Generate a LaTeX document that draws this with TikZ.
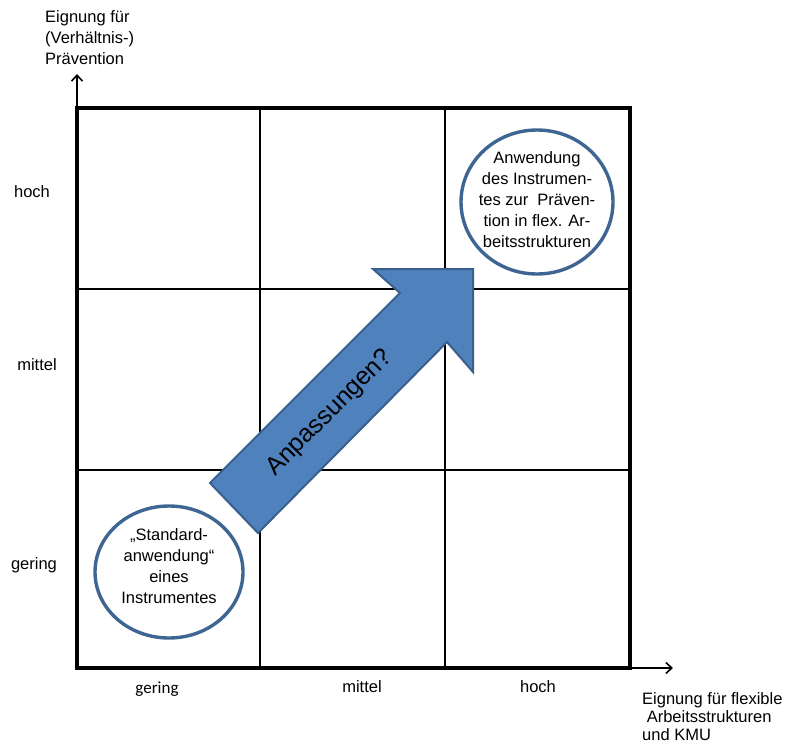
\documentclass[tikz,border=0pt]{standalone}
\usepackage{fontspec}
\setmainfont{Liberation Sans}
\newfontfamily\calibri{Carlito}
\usetikzlibrary{arrows.meta,shapes.geometric}
\definecolor{arrowfill}{HTML}{4F81BD}
\definecolor{arrowline}{HTML}{3A5F8C}
\definecolor{ringline}{HTML}{3F6592}
\tikzset{
  frame/.style={line width=3.6pt},
  gridline/.style={line width=1.6pt},
  axis/.style={line width=1.6pt,-{Straight Barb[length=6pt,width=11pt,line width=1.6pt]}},
  ring/.style={draw=ringline,line width=3.4pt,fill=white,ellipse,inner sep=0pt},
  lbl/.style={font=\fontsize{16.5}{20}\selectfont,inner sep=0pt},
  clbl/.style={font=\calibri\fontsize{17}{20}\selectfont,inner sep=0pt},
  ringtext/.style={font=\fontsize{16.5}{21}\selectfont,align=center,inner sep=0pt},
  bigarrow/.style={fill=arrowfill,draw=arrowline,line width=2pt,line join=miter},
}
\begin{document}
\begin{tikzpicture}[x=1pt,y=-1pt]
\useasboundingbox (0,0) rectangle (785,747);
% grid
\draw[gridline] (260,108) -- (260,668) (445,108) -- (445,668)
                (77,289) -- (630,289) (77,470) -- (630,470);
\draw[frame] (77,108) rectangle (630,668);
% axes
\coordinate (o1) at (77,110);
\coordinate (ytip) at (77,74);
\coordinate (o2) at (628,668);
\coordinate (xtip) at (673,668);
\draw[axis] (o1) -- (ytip);
\draw[axis] (o2) -- (xtip);
% axis titles
\node[lbl,anchor=north west,align=left,font=\fontsize{16.5}{21}\selectfont] (ytitle) at (45,10) {Eignung für\\(Verhältnis-)\\Prävention};
\node[lbl,anchor=north west,align=left,font=\fontsize{16.5}{18}\selectfont] (xtitle) at (642,692) {Eignung für flexible\\\ Arbeitsstrukturen\\und KMU};
% y labels
\node[lbl] (yh) at (32,192) {hoch};
\node[lbl] (ym) at (37,365) {mittel};
\node[lbl] (yg) at (34,565) {gering};
% x labels
\node[clbl] (xg) at (157,689) {gering};
\node[lbl] (xm) at (362,687) {mittel};
\node[lbl] (xh) at (538,687) {hoch};
% big arrow
\draw[bigarrow] (210,483) -- (400,293) -- (373,269) -- (473,269) -- (473,372) -- (447,342) -- (258,533) -- cycle;
\node[font=\fontsize{25}{30}\selectfont,rotate=45,inner sep=0pt] (anp) at (330,413) {Anpassungen?};
% circles
\node[ring,minimum width=148pt,minimum height=132pt] (c1) at (169,572) {};
\node[ringtext] (t1) at (169,566) {„Standard-\\anwendung“\\eines\\Instrumentes};
\node[ring,minimum width=152pt,minimum height=144pt] (c2) at (537,202) {};
\node[ringtext] (t2) at (537,200) {Anwendung\\des Instrumen-\\tes zur\ \ Präven-\\tion in flex. Ar-\\beitsstrukturen};
\end{tikzpicture}
\end{document}
